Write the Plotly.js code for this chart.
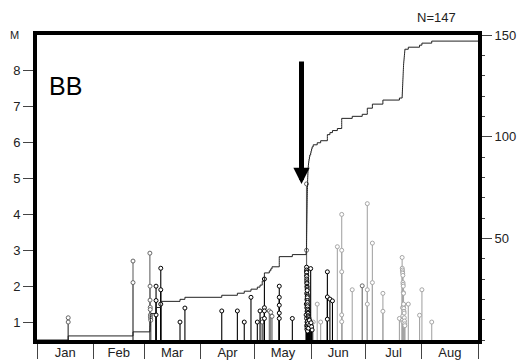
<!DOCTYPE html>
<html><head><meta charset="utf-8">
<script src="https://cdn.plot.ly/plotly-3.0.1.min.js"></script>
<style>html,body{margin:0;padding:0;background:#fff}#chart{width:520px;height:364px}</style>
</head><body><div id="chart"></div>
<script>
// ---- data ----
// event time in days since 1 January, magnitude M, colour group (k = black, g = grey, l = light grey)
const preDay = [17.2,17.2, 52.9,52.9, 62.2,62.3,62.3,62.4,62.4,62.5,62.5,62.6,62.7, 65.6,65.6,65.6, 68.2,68.2,68.2,
  78.8, 81.5, 101.8, 110.4, 114.2, 117.9, 121.4, 122.9, 124.1,124.1, 125.3,125.3,125.3,125.3, 128.0, 128.8, 129.5,
  133.5,133.5,133.5,133.5,133.5, 140.7];
const preMag = [1.0,1.12, 2.7,2.1, 2.92,2.0,1.61,1.41,1.35,1.2,1.15,1.1,1.05, 2.0,1.6,1.2, 2.5,1.9,1.5,
  1.0, 1.39, 1.31, 1.31, 1.0, 1.69, 1.0, 1.31, 1.08,1.0, 2.2,1.4,1.31,1.1, 1.31, 1.27, 1.16,
  2.0,1.69,1.47,1.25,1.1, 1.1];
const preGroup = ['g','g','g','g','g','g','g','g','g','g','g','g','g','k','k','k','k','k','k',
  'k','k','k','k','k','k','k','k','g','g','k','k','k','k','g','g','g',
  'k','k','k','k','k','k'];

const mainDay = [148.5, 148.52, 148.3, 148.4, 148.53,148.54,148.55,148.56,148.57,148.58,148.6,148.62,148.63,148.65,
  148.66,148.68,148.7,148.71,148.73,148.75,148.77,148.79,148.8,148.82,148.84,148.86,148.88,148.9,148.92,148.95,
  148.97,149.0,149.03,149.05,149.08,149.1,149.13,149.16,149.2,149.25,149.3,149.36,149.42,149.5,149.6,
  149.75,149.9,150.1,150.3,150.8,151.0,151.3,151.6];
const mainMag = [4.85, 3.0, 1.2, 1.5, 2.53,2.45,2.4,1.1,2.38,2.3,0.9,2.27,1.8,2.2,
  1.4,2.15,2.1,0.8,2.07,1.63,2.0,1.0,1.97,1.3,1.92,0.85,1.88,1.76,1.72,0.94,
  1.68,1.6,1.55,1.02,1.48,1.43,0.75,1.36,1.32,1.27,0.96,1.24,1.18,1.15,0.83,
  1.12,1.08,1.05,0.92,2.49,0.98,0.87,0.78];
const mainGroup = ['g','g'].concat(Array(51).fill('k'));

const postDay = [152.2, 154.4, 156.3, 160.0,160.0,160.0, 161.4, 162.8, 165.5, 167.9,167.9,167.9,167.9,167.9,
  173.7, 179.2, 182.0,182.0,182.0, 184.8,184.8, 190.6,190.6, 199.7,
  201.2,201.25,201.3,201.35,201.4,201.45,201.5,201.55,201.6,201.65,201.7,201.75,201.8,201.85,201.9,201.95,
  202.0,202.1,202.2,202.3,202.4,202.5,202.6,202.7,
  204.6, 210.8, 212.1, 217.5];
const postMag = [1.0, 1.5, 1.0, 2.4,1.7,1.08, 1.64, 1.59, 3.1, 4.0,3.0,2.4,1.2,1.01,
  1.9, 2.01, 4.3,1.9,1.5, 3.2,2.1, 1.8,1.3, 1.1,
  2.8,2.5,1.05,2.45,1.4,2.4,2.36,1.17,2.3,2.1,1.0,2.05,2.0,1.82,1.45,1.8,
  1.5,1.38,1.3,1.25,1.12,1.03,0.95,0.9,
  1.5, 1.19, 1.9, 1.0];
const postGroup = ['l','l','l','k','k','k','k','k','l','l','l','l','l','l',
  'l','g','l','l','l','l','l','l','l','l'].concat(Array(24).fill('l')).concat(['l','l','l','l']);

const monthStart = '2001-01-01';
const monthEnd = '2001-09-01';
const magTicks = [1,2,3,4,5,6,7,8];
const countTicks = [50,100,150];
const magRange = [0.5, 9.0];
const countRange = [0, 150];
const panelLabel = 'BB';

// ---- build ----
const YEAR0 = Date.UTC(2001,0,1);
function toDate(d){ return new Date(YEAR0 + d*86400000).toISOString().slice(0,19).replace('T',' '); }
const day = preDay.concat(mainDay, postDay);
const mag = preMag.concat(mainMag, postMag);
const grp = preGroup.concat(mainGroup, postGroup);
const colors = {k:'#000000', g:'#666666', l:'#a6a6a6'};
const traces = [];
['l','g','k'].forEach(function(g){
  const sx=[], sy=[], mx=[], my=[];
  for(let i=0;i<day.length;i++){ if(grp[i]!==g) continue;
    const t = toDate(day[i]);
    sx.push(t,t,null); sy.push(magRange[0], mag[i], null);
    mx.push(t); my.push(mag[i]);
  }
  traces.push({x:sx,y:sy,mode:'lines',type:'scatter',line:{color:colors[g],width:1.1},hoverinfo:'skip',showlegend:false});
  traces.push({x:mx,y:my,mode:'markers',type:'scatter',marker:{symbol:'circle',size:4,color:'#ffffff',line:{color:colors[g],width:1}},showlegend:false});
});
// cumulative number
const order = day.map((d,i)=>i).sort((a,b)=>day[a]-day[b]);
const cx=[toDate(0)], cy=[0];
order.forEach((i,n)=>{ cx.push(toDate(day[i])); cy.push(n+1); });
cx.push(monthEnd); cy.push(day.length);
traces.push({x:cx,y:cy,yaxis:'y2',mode:'lines',type:'scatter',line:{color:'#222',width:1,shape:'hv'},showlegend:false});

// mainshock = largest event
let mi = 0; for(let i=1;i<mag.length;i++) if(mag[i]>mag[mi]) mi=i;

const font = {family:'Liberation Sans, Arial, sans-serif', size:13, color:'#222'};
const layout = {
  width:520, height:364, margin:{l:37,r:42,t:35,b:24}, paper_bgcolor:'#fff', plot_bgcolor:'#fff',
  showlegend:false, font:font,
  xaxis:{type:'date', range:[monthStart, monthEnd], tick0:monthStart, dtick:'M1', tickformat:'%b',
    ticklabelmode:'period', ticks:'outside', ticklen:15, tickwidth:1, tickcolor:'#444', ticklabelstandoff:-18,
    showline:true, linewidth:4, linecolor:'#000', mirror:true, showgrid:false, zeroline:false, tickfont:font},
  yaxis:{range:magRange, tickmode:'array', tickvals:magTicks, ticks:'outside', ticklen:10, tickwidth:1, tickcolor:'#444',
    showline:true, linewidth:4, linecolor:'#000', showgrid:false, zeroline:false, tickfont:font},
  yaxis2:{range:countRange, overlaying:'y', side:'right', tickmode:'array', tickvals:countTicks, ticks:'outside', ticklen:10,
    tickwidth:1, tickcolor:'#444', minor:{tickmode:'linear', tick0:0, dtick:10, ticks:'outside', ticklen:3, tickcolor:'#444'},
    showline:true, linewidth:4, linecolor:'#000', showgrid:false, zeroline:false, tickfont:font},
  annotations:[
    {xref:'paper', yref:'paper', x:0.022, y:0.834, xanchor:'left', yanchor:'middle', text:panelLabel, showarrow:false,
      font:{family:'Liberation Sans, Arial, sans-serif', size:25, color:'#000'}},
    {xref:'paper', yref:'paper', x:-0.05, y:1.0, xanchor:'center', yanchor:'middle', text:'M', showarrow:false,
      font:{family:'Liberation Sans, Arial, sans-serif', size:11, color:'#222'}},
    {xref:'paper', yref:'paper', x:0.905, y:1.056, xanchor:'center', yanchor:'middle', text:'N='+day.length, showarrow:false,
      font:{family:'Liberation Sans, Arial, sans-serif', size:13, color:'#222'}},
    {x:toDate(day[mi]), y:mag[mi], xref:'x', yref:'y', text:'', showarrow:true, ax:0, ay:-124, xshift:-5,
      arrowhead:2, arrowsize:0.65, arrowwidth:5, arrowcolor:'#000', standoff:0}
  ]
};
Plotly.newPlot('chart', traces, layout, {staticPlot:true, displayModeBar:false});
</script>
</body></html>
